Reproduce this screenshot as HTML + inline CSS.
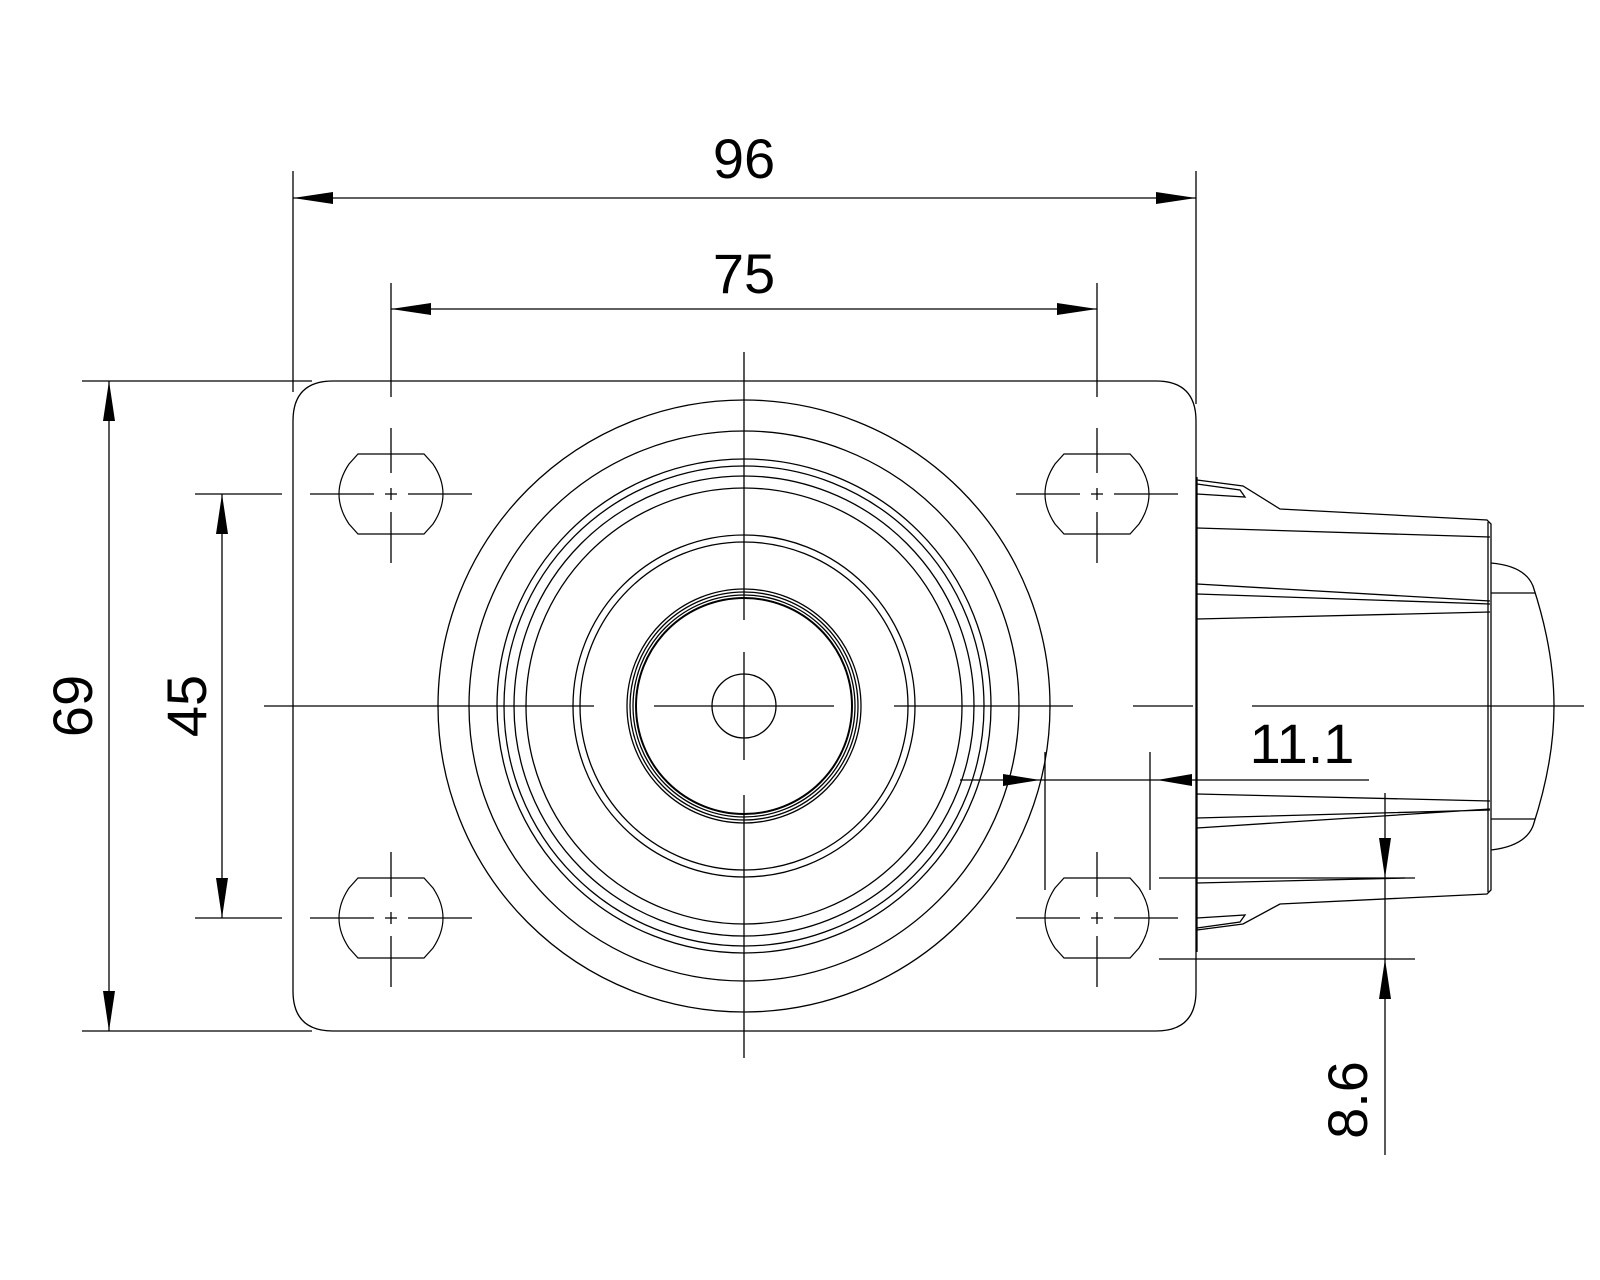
<!DOCTYPE html>
<html><head><meta charset="utf-8"><style>
html,body{margin:0;padding:0;background:#fff}
svg{display:block}
text{font-family:"Liberation Sans",sans-serif;font-size:56px;fill:#000}
</style></head><body>
<svg width="1600" height="1280" viewBox="0 0 1600 1280" xmlns="http://www.w3.org/2000/svg">
<defs>
<g id="hole">
<path d="M-33,-40 H33 L42,-30 Q52,-15 52,0 Q52,15 42,30 L33,40 H-33 L-42,30 Q-52,15 -52,0 Q-52,-15 -42,-30 Z" fill="none" stroke="#000" stroke-width="1.2"/>
<path d="M-81,0 H-17 M-6,0 H6 M17,0 H81 M0,-66 V-21 M0,-6 V6 M0,18 V69" stroke="#000" stroke-width="1.3"/>
</g>
</defs>
<g fill="none" stroke="#000" stroke-width="1.3">
<!-- plate -->
<path d="M333,381 H1156 Q1196,381 1196,421 V991 Q1196,1031 1156,1031 H333 Q293,1031 293,991 V421 Q293,381 333,381 Z"/>
<!-- circles -->
<circle cx="744" cy="706" r="306"/>
<circle cx="744" cy="706" r="275"/>
<circle cx="744" cy="706" r="247"/>
<circle cx="744" cy="706" r="240"/>
<circle cx="744" cy="706" r="230"/>
<circle cx="744" cy="706" r="218"/>
<circle cx="744" cy="706" r="171"/>
<circle cx="744" cy="706" r="164"/>
<circle cx="744" cy="706" r="117"/>
<circle cx="744" cy="706" r="114"/>
<circle cx="744" cy="706" r="111"/>
<circle cx="744" cy="706" r="108" stroke-width="2"/>
<circle cx="744" cy="706" r="32"/>
<!-- centerlines -->
<path d="M264,706 H594 M654,706 H834 M894,706 H1073 M1133,706 H1193 M1252,706 H1584"/>
<path d="M744,352 V620 M744,652 V760 M744,795 V1058"/>
<!-- side bracket -->
<path d="M1197,477 V952"/>
<path d="M1197,480 L1243,486 L1280,509 L1487,520 L1491,524 V890 L1487,894 L1280,904 L1243,924 L1197,930"/>
<path d="M1488,522 V892"/>
<path d="M1197,484 L1240,490 L1245,497 L1197,494"/>
<path d="M1197,928 L1240,922 L1245,915 L1197,918"/>
<path d="M1197,528 L1490,537"/>
<path d="M1197,584 L1490,601 M1197,594 L1490,604 M1197,619 L1490,612"/>
<path d="M1197,794 L1490,801 M1197,818 L1490,810 M1197,828 L1490,809"/>
<path d="M1197,883 L1405,878"/>
<path d="M1491,563 Q1525,566 1533,586 Q1554,650 1554,706 Q1554,762 1533,826 Q1525,846 1491,850"/>
<path d="M1491,593 H1535 M1491,819 H1535"/>
</g>
<use href="#hole" x="391" y="494"/>
<use href="#hole" x="1097" y="494"/>
<use href="#hole" x="391" y="918"/>
<use href="#hole" x="1097" y="918"/>
<!-- dimensions -->
<g stroke="#000" stroke-width="1.3" fill="none">
<path d="M293,171 V392 M1196,171 V404"/>
<path d="M293,198 H1196"/>
<path d="M391,283 V397 M1097,283 V397"/>
<path d="M391,309 H1097"/>
<path d="M82,381 H312 M82,1031 H312"/>
<path d="M109,381 V1031"/>
<path d="M195,494 H282 M195,918 H282"/>
<path d="M222,494 V918"/>
<path d="M960,780 H1369"/>
<path d="M1045,752 V890 M1150,752 V890"/>
<path d="M1159,878 H1415 M1159,959 H1415"/>
<path d="M1385,793 V1155"/>
</g>
<g fill="#000">
<path d="M293,198 L333,192 L333,204 Z"/>
<path d="M1196,198 L1156,192 L1156,204 Z"/>
<path d="M391,309 L431,303 L431,315 Z"/>
<path d="M1097,309 L1057,303 L1057,315 Z"/>
<path d="M109,381 L103,421 L115,421 Z"/>
<path d="M109,1031 L103,991 L115,991 Z"/>
<path d="M222,494 L216,534 L228,534 Z"/>
<path d="M222,918 L216,878 L228,878 Z"/>
<path d="M1040,780 L1003,774 L1003,786 Z"/>
<path d="M1157,780 L1192,774 L1192,786 Z"/>
<path d="M1385,878 L1379,838 L1391,838 Z"/>
<path d="M1385,959 L1379,999 L1391,999 Z"/>
</g>
<text x="744" y="178" text-anchor="middle">96</text>
<text x="744" y="293" text-anchor="middle">75</text>
<text x="1302" y="763" text-anchor="middle">11.1</text>
<text transform="translate(92,706) rotate(-90)" text-anchor="middle">69</text>
<text transform="translate(206,706) rotate(-90)" text-anchor="middle">45</text>
<text transform="translate(1367,1100) rotate(-90)" text-anchor="middle">8.6</text>
</svg>
</body></html>
